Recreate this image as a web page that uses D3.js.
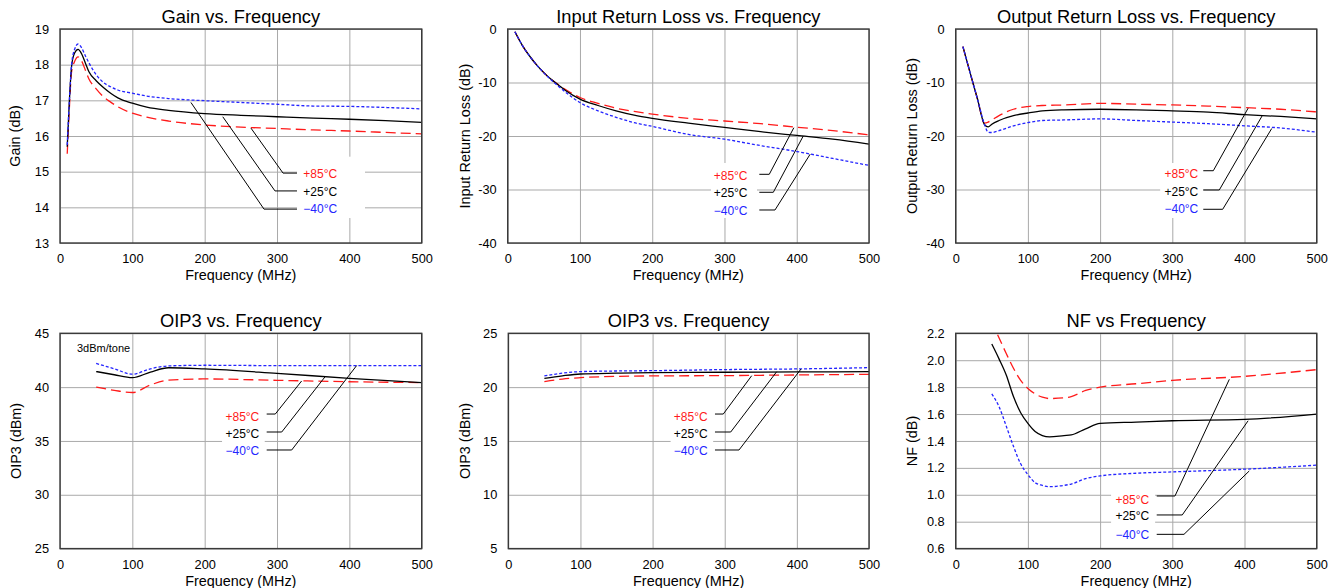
<!DOCTYPE html>
<html><head><meta charset="utf-8">
<script src="https://cdn.jsdelivr.net/npm/d3@7"></script>
<style>
body{margin:0;background:#fff}
svg{display:block}
text{font-family:"Liberation Sans",Arial,Helvetica,sans-serif}
</style>
</head><body>
<svg id="c" width="1338" height="588"></svg>
<script>
// ---------------- DATA ----------------
const freqTicks = [0, 100, 200, 300, 400, 500];
const seriesNames = ["+85°C", "+25°C", "−40°C"];

// Gain vs Frequency
const gainFreq = [10, 13, 16, 20, 25, 30, 35, 40, 50, 60, 70, 80, 100, 120, 150, 200, 250, 300, 350, 400, 450, 500];
const gainP85 = [15.5, 16.8, 17.8, 18.08, 18.22, 18.1, 17.85, 17.6, 17.32, 17.1, 16.95, 16.82, 16.64, 16.53, 16.42, 16.31, 16.25, 16.21, 16.17, 16.14, 16.1, 16.06];
const gainP25 = [15.7, 17.0, 17.95, 18.32, 18.43, 18.3, 18.05, 17.8, 17.55, 17.36, 17.2, 17.07, 16.92, 16.81, 16.72, 16.63, 16.58, 16.54, 16.5, 16.47, 16.43, 16.38];
const gainM40 = [15.75, 17.0, 18.0, 18.42, 18.58, 18.47, 18.25, 18.05, 17.72, 17.5, 17.38, 17.29, 17.2, 17.12, 17.05, 16.99, 16.94, 16.89, 16.84, 16.83, 16.8, 16.76];
const gainTicks = [13, 14, 15, 16, 17, 18, 19];

// Input Return Loss
const irlFreq = [10, 20, 30, 40, 50, 60, 70, 80, 100, 125, 150, 175, 200, 250, 300, 350, 400, 450, 500];
const irlP85 = [-0.5, -3.0, -5.0, -6.7, -8.15, -9.4, -10.4, -11.3, -12.8, -13.9, -14.8, -15.4, -15.9, -16.7, -17.2, -17.7, -18.35, -19.0, -19.8];
const irlP25 = [-0.5, -3.0, -5.0, -6.7, -8.15, -9.4, -10.45, -11.5, -13.1, -14.3, -15.3, -16.1, -16.7, -17.6, -18.4, -19.2, -19.9, -20.6, -21.5];
const irlM40 = [-0.5, -3.0, -5.0, -6.7, -8.2, -9.5, -10.7, -11.8, -13.75, -15.3, -16.5, -17.5, -18.2, -19.7, -20.6, -21.8, -22.9, -24.2, -25.5];
const rlTicks = [-40, -30, -20, -10, 0];

// Output Return Loss
const orlFreq = [10, 20, 30, 40, 45, 50, 60, 80, 100, 120, 150, 200, 250, 300, 350, 400, 450, 500];
const orlP85 = [-3.3, -8.2, -13.0, -17.6, -17.4, -17.0, -16.2, -15.0, -14.5, -14.3, -14.2, -13.9, -14.05, -14.2, -14.4, -14.7, -15.0, -15.5];
const orlP25 = [-3.3, -8.2, -13.0, -17.9, -18.3, -17.8, -17.1, -16.2, -15.7, -15.3, -15.1, -15.0, -15.1, -15.3, -15.55, -16.0, -16.35, -16.8];
const orlM40 = [-3.3, -8.2, -13.0, -17.9, -19.3, -19.35, -19.0, -18.1, -17.5, -17.1, -17.0, -16.8, -17.1, -17.4, -17.7, -18.1, -18.5, -19.3];

// OIP3 (3 dBm/tone)
const oipAFreq = [50, 75, 100, 125, 150, 200, 300, 400, 500];
const oipAP85 = [40.0, 39.7, 39.5, 40.2, 40.65, 40.76, 40.63, 40.5, 40.42];
const oipAP25 = [41.45, 41.15, 40.88, 41.4, 41.8, 41.69, 41.28, 40.82, 40.42];
const oipAM40 = [42.2, 41.7, 41.2, 41.7, 41.97, 42.03, 42.0, 42.0, 42.0];
const oipATicks = [25, 30, 35, 40, 45];

// OIP3 (second)
const oipBFreq = [50, 75, 100, 150, 200, 300, 400, 500];
const oipBP85 = [20.51, 20.75, 20.88, 21.0, 21.04, 21.07, 21.13, 21.19];
const oipBP25 = [20.82, 21.05, 21.22, 21.3, 21.35, 21.38, 21.41, 21.44];
const oipBM40 = [21.04, 21.3, 21.44, 21.5, 21.53, 21.63, 21.69, 21.81];
const oipBTicks = [5, 10, 15, 20, 25];

// Noise Figure
const nfFreqHot = [58, 70, 80, 90, 100, 110, 120, 130, 150, 160, 180, 200, 250, 300, 400, 500];
const nfP85 = [2.19, 2.05, 1.94, 1.85, 1.79, 1.75, 1.725, 1.715, 1.72, 1.73, 1.775, 1.80, 1.825, 1.85, 1.88, 1.93];
const nfFreq = [50, 60, 70, 80, 90, 100, 110, 120, 130, 150, 160, 180, 200, 250, 300, 400, 500];
const nfP25 = [2.12, 2.01, 1.89, 1.73, 1.61, 1.53, 1.47, 1.44, 1.43, 1.44, 1.445, 1.49, 1.53, 1.54, 1.55, 1.56, 1.60];
const nfM40 = [1.75, 1.655, 1.51, 1.36, 1.23, 1.15, 1.09, 1.07, 1.06, 1.07, 1.08, 1.12, 1.14, 1.16, 1.17, 1.19, 1.22];
const nfTicks = [0.6, 0.8, 1.0, 1.2, 1.4, 1.6, 1.8, 2.0, 2.2];

// ---------------- STYLE ----------------
const RED = "#ff1a1a", BLK = "#000000", BLU = "#2424ff";
const styles = [
  {color: RED, dash: "10,5"},
  {color: BLK, dash: null},
  {color: BLU, dash: "3,2"}
];

const svg = d3.select("#c");

function zip(xs, ys){ return xs.map((x,i)=>[x, ys[i]]); }

function panel(c){
  const g = svg.append("g").attr("transform", `translate(${c.left},${c.top})`);
  const x = d3.scaleLinear().domain([0, 500]).range([0, c.w]);
  const y = d3.scaleLinear().domain(c.yDomain).range([c.h, 0]);

  // grid
  const gx = g.append("g").attr("transform", `translate(0,${c.h})`)
    .call(d3.axisBottom(x).tickValues(freqTicks).tickSize(-c.h).tickFormat(""));
  const gy = g.append("g")
    .call(d3.axisLeft(y).tickValues(c.yTicks).tickSize(-c.w).tickFormat(""));
  [gx, gy].forEach(a => {
    a.select(".domain").remove();
    a.selectAll("line").attr("stroke", "#a9a9a9").attr("stroke-width", 1);
  });

  // white legend backing
  if (c.box){
    g.append("rect")
      .attr("x", x(c.box[0])).attr("y", y(c.box[2]))
      .attr("width", x(c.box[1]) - x(c.box[0]))
      .attr("height", y(c.box[3]) - y(c.box[2]))
      .attr("fill", "#fff");
  }

  // series
  const line = d3.line().x(d => x(d[0])).y(d => y(d[1])).curve(d3.curveMonotoneX);
  c.series.forEach((s, i) => {
    const st = styles[i];
    g.append("path").datum(zip(s[0], s[1]))
      .attr("d", line).attr("fill", "none")
      .attr("stroke", st.color).attr("stroke-width", 1.3)
      .attr("stroke-dasharray", st.dash);
  });

  // leader lines + labels
  c.notes.forEach((n, i) => {
    g.append("path")
      .attr("d", d3.line().x(d => x(d[0])).y(d => y(d[1]))(n.pts))
      .attr("fill", "none").attr("stroke", "#000").attr("stroke-width", 1);
    g.append("text")
      .attr("x", x(n.lf)).attr("y", y(n.lv)).attr("dy", "0.35em")
      .attr("text-anchor", c.labelAnchor)
      .attr("font-size", 12)
      .attr("fill", styles[i].color)
      .text(seriesNames[i]);
  });

  if (c.extra){
    g.append("text").attr("x", x(c.extra.f)).attr("y", y(c.extra.v)).attr("dy", "0.35em")
      .attr("font-size", 11).attr("fill", "#000").text(c.extra.t);
  }

  // axes labels
  const ax = g.append("g").attr("transform", `translate(0,${c.h})`)
    .call(d3.axisBottom(x).tickValues(freqTicks).tickSize(0).tickPadding(11));
  const ay = g.append("g")
    .call(d3.axisLeft(y).tickValues(c.yTicks).tickSize(0).tickPadding(11).tickFormat(c.fmt));
  [ax, ay].forEach(a => {
    a.select(".domain").remove();
    a.attr("font-family", null).attr("font-size", null);
    a.selectAll("text").attr("font-size", 12.8).attr("fill", "#000");
  });

  // border
  g.append("rect").attr("x", 0).attr("y", 0).attr("width", c.w).attr("height", c.h)
    .attr("fill", "none").attr("stroke", "#3a3a3a").attr("stroke-width", 1.4);

  // title
  g.append("text").attr("x", c.w / 2).attr("y", -c.titleGap)
    .attr("text-anchor", "middle").attr("font-size", 18.3).attr("fill", "#000")
    .text(c.title);
  // x label
  g.append("text").attr("x", c.w / 2).attr("y", c.h + c.xlabGap)
    .attr("text-anchor", "middle").attr("font-size", 14.4).attr("fill", "#000")
    .text("Frequency (MHz)");
  // y label
  g.append("text")
    .attr("transform", `translate(${-c.ylabGap},${c.h / 2}) rotate(-90)`)
    .attr("text-anchor", "middle").attr("dy", "0.35em")
    .attr("font-size", 14.4).attr("fill", "#000")
    .text(c.ylabel);
}

const intFmt = d => String(d);
const nfFmt = d3.format(".1f");

panel({
  left: 60, top: 29, w: 361.7, h: 214, yDomain: [13, 19], yTicks: gainTicks, fmt: intFmt,
  title: "Gain vs. Frequency", ylabel: "Gain (dB)", titleGap: 6, xlabGap: 37, ylabGap: 45,
  series: [[gainFreq, gainP85], [gainFreq, gainP25], [gainFreq, gainM40]],
  labelAnchor: "start",
  box: [327.6, 421.6, 15.42, 13.7],
  notes: [
    {pts: [[264, 16.22], [308.3, 14.96], [327.6, 14.96]], lf: 336.4, lv: 14.94},
    {pts: [[225, 16.54], [297.2, 14.46], [327.6, 14.46]], lf: 336.4, lv: 14.44},
    {pts: [[181, 16.94], [282, 13.95], [327.6, 13.95]], lf: 336.4, lv: 13.945}
  ]
});

panel({
  left: 507.7, top: 29, w: 361.3, h: 214, yDomain: [-40, 0], yTicks: rlTicks, fmt: intFmt,
  title: "Input Return Loss vs. Frequency", ylabel: "Input Return Loss (dB)", titleGap: 6, xlabGap: 37, ylabGap: 43,
  series: [[irlFreq, irlP85], [irlFreq, irlP25], [irlFreq, irlM40]],
  labelAnchor: "end",
  box: [281.3, 345, -25.05, -35.33],
  notes: [
    {pts: [[396, -18.45], [362.0, -27.16], [348.2, -27.16]], lf: 331.9, lv: -27.42},
    {pts: [[409, -20.0], [367.6, -30.52], [348.2, -30.52]], lf: 331.9, lv: -30.6},
    {pts: [[418.6, -23.4], [369.9, -33.83], [348.2, -33.83]], lf: 331.9, lv: -33.96}
  ]
});

panel({
  left: 955.7, top: 29, w: 361, h: 214, yDomain: [-40, 0], yTicks: rlTicks, fmt: intFmt,
  title: "Output Return Loss vs. Frequency", ylabel: "Output Return Loss (dB)", titleGap: 6, xlabGap: 37, ylabGap: 44,
  series: [[orlFreq, orlP85], [orlFreq, orlP25], [orlFreq, orlM40]],
  labelAnchor: "end",
  box: [283.2, 342.8, -25.05, -35.33],
  notes: [
    {pts: [[405, -14.8], [356.8, -26.49], [342.9, -26.49]], lf: 336.0, lv: -27.1},
    {pts: [[425, -16.1], [365.1, -30.09], [342.9, -30.09]], lf: 336.0, lv: -30.41},
    {pts: [[437.7, -18.6], [369.8, -33.7], [342.9, -33.7]], lf: 336.0, lv: -33.7}
  ]
});

panel({
  left: 60, top: 333.3, w: 361.7, h: 215.3, yDomain: [25, 45], yTicks: oipATicks, fmt: intFmt,
  title: "OIP3 vs. Frequency", ylabel: "OIP3 (dBm)", titleGap: 6, xlabGap: 37, ylabGap: 44,
  series: [[oipAFreq, oipAP85], [oipAFreq, oipAP25], [oipAFreq, oipAM40]],
  labelAnchor: "end",
  box: [224, 283, 38.34, 33.23],
  extra: {t: "3dBm/tone", f: 23.5, v: 43.63},
  notes: [
    {pts: [[334, 40.57], [297.6, 37.5], [285.7, 37.5]], lf: 275.5, lv: 37.25},
    {pts: [[366.5, 40.97], [306.5, 35.83], [285.7, 35.83]], lf: 275.5, lv: 35.71},
    {pts: [[410, 42.0], [320.3, 34.16], [285.7, 34.16]], lf: 275.5, lv: 34.1}
  ]
});

panel({
  left: 508.3, top: 333.3, w: 360.7, h: 215.3, yDomain: [5, 25], yTicks: oipBTicks, fmt: intFmt,
  title: "OIP3 vs. Frequency", ylabel: "OIP3 (dBm)", titleGap: 6, xlabGap: 37, ylabGap: 43,
  series: [[oipBFreq, oipBP85], [oipBFreq, oipBP25], [oipBFreq, oipBM40]],
  labelAnchor: "end",
  box: [225, 284, 18.34, 13.23],
  notes: [
    {pts: [[337.4, 21.06], [298.0, 17.5], [286.5, 17.5]], lf: 276.4, lv: 17.25},
    {pts: [[372, 21.43], [308.3, 15.83], [286.5, 15.83]], lf: 276.4, lv: 15.71},
    {pts: [[405.7, 21.68], [319.8, 14.16], [286.5, 14.16]], lf: 276.4, lv: 14.1}
  ]
});

panel({
  left: 955.7, top: 333.3, w: 361, h: 215.3, yDomain: [0.6, 2.2], yTicks: nfTicks, fmt: nfFmt,
  title: "NF vs Frequency", ylabel: "NF (dB)", titleGap: 6, xlabGap: 37, ylabGap: 44,
  series: [[nfFreqHot, nfP85], [nfFreq, nfP25], [nfFreq, nfM40]],
  labelAnchor: "end",
  box: [215.2, 276.2, 1.05, 0.627],
  notes: [
    {pts: [[379, 1.858], [303.7, 0.991], [278.4, 0.991]], lf: 268.1, lv: 0.966},
    {pts: [[405, 1.55], [313.8, 0.850], [278.4, 0.850]], lf: 268.1, lv: 0.842},
    {pts: [[406.6, 1.177], [316.2, 0.706], [278.4, 0.706]], lf: 268.1, lv: 0.706}
  ]
});
</script>
</body></html>
